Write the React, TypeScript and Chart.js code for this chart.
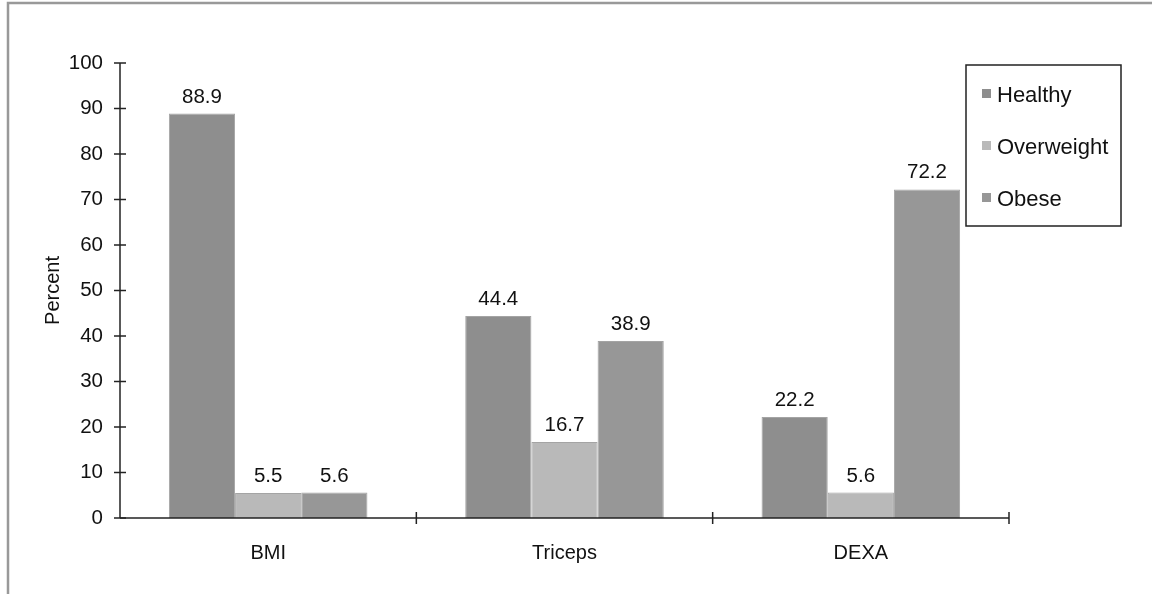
import React, { useEffect, useRef } from "react";
import { Chart, registerables } from "chart.js";

Chart.register(...registerables);

const categories = ["BMI", "Triceps", "DEXA"];
const seriesNames = ["Healthy", "Overweight", "Obese"];
const healthy = [88.9, 44.4, 22.2];
const overweight = [5.5, 16.7, 5.6];
const obese = [5.6, 38.9, 72.2];
const seriesColors = ["#8e8e8e", "#b9b9b9", "#979797"];
const yTicks = [0, 10, 20, 30, 40, 50, 60, 70, 80, 90, 100];
const yTitle = "Percent";

const FONT = "'Liberation Sans', Arial, sans-serif";

const decorPlugin = {
  id: "decor",
  beforeDraw(chart: any) {
    const ctx = chart.ctx;
    ctx.save();
    ctx.strokeStyle = "#999999";
    ctx.lineWidth = 2.5;
    ctx.beginPath();
    ctx.moveTo(8, 594);
    ctx.lineTo(8, 3);
    ctx.lineTo(1152, 3);
    ctx.stroke();
    ctx.restore();
  },
  afterDatasetsDraw(chart: any) {
    const ctx = chart.ctx;
    const area = chart.chartArea;
    const y = chart.scales.y;
    ctx.save();
    ctx.strokeStyle = "#222";
    ctx.lineWidth = 1.5;
    ctx.beginPath();
    ctx.moveTo(area.left, y.getPixelForValue(100));
    ctx.lineTo(area.left, y.getPixelForValue(0));
    ctx.stroke();
    yTicks.forEach((v) => {
      const py = y.getPixelForValue(v);
      ctx.beginPath();
      ctx.moveTo(area.left - 6, py);
      ctx.lineTo(area.left + 6, py);
      ctx.stroke();
    });
    const y0 = y.getPixelForValue(0);
    ctx.beginPath();
    ctx.moveTo(area.left, y0);
    ctx.lineTo(area.right, y0);
    ctx.stroke();
    const n = categories.length;
    const w = (area.right - area.left) / n;
    for (let i = 1; i <= n; i++) {
      const px = area.left + i * w;
      ctx.beginPath();
      ctx.moveTo(px, y0 - 6);
      ctx.lineTo(px, y0 + 6);
      ctx.stroke();
    }
    ctx.fillStyle = "#111";
    ctx.font = `20.5px ${FONT}`;
    ctx.textAlign = "center";
    ctx.textBaseline = "alphabetic";
    chart.data.datasets.forEach((ds: any, di: number) => {
      const meta = chart.getDatasetMeta(di);
      meta.data.forEach((bar: any, i: number) => {
        ctx.fillText(String(ds.data[i]), bar.x, bar.y - 11);
      });
    });
    ctx.save();
    ctx.translate(53, (area.top + y0) / 2);
    ctx.rotate(-Math.PI / 2);
    ctx.font = `20px ${FONT}`;
    ctx.textAlign = "center";
    ctx.textBaseline = "middle";
    ctx.fillText(yTitle, 0, 0);
    ctx.restore();
    const lx = 966, ly = 65, lw = 155, lh = 161;
    ctx.strokeStyle = "#222";
    ctx.lineWidth = 1.5;
    ctx.beginPath();
    ctx.rect(lx, ly, lw, lh);
    ctx.stroke();
    ctx.font = `22px ${FONT}`;
    ctx.textAlign = "left";
    ctx.textBaseline = "middle";
    chart.data.datasets.forEach((ds: any, di: number) => {
      const cy = ly + 31 + di * 52;
      ctx.fillStyle = ds.backgroundColor;
      ctx.fillRect(lx + 16, cy - 7, 9, 9);
      ctx.fillStyle = "#111";
      ctx.fillText(ds.label, lx + 31, cy);
    });
    ctx.restore();
  },
};

export default function App() {
  const ref = useRef<HTMLCanvasElement>(null);
  useEffect(() => {
    document.body.style.margin = "0";
    const data = [healthy, overweight, obese];
    const chart = new Chart(ref.current!, {
      type: "bar",
      data: {
        labels: categories,
        datasets: seriesNames.map((name, i) => ({
          label: name,
          data: data[i],
          backgroundColor: seriesColors[i],
          borderColor: "#a4a4a4",
          borderWidth: 1,
          categoryPercentage: 0.67,
          barPercentage: 1,
        })),
      },
      options: {
        animation: false,
        responsive: false,
        devicePixelRatio: 1,
        layout: { padding: { left: 0, top: 63, right: 143, bottom: 0 } },
        plugins: { legend: { display: false }, tooltip: { enabled: false } },
        scales: {
          x: {
            grid: { display: false, drawTicks: false },
            border: { display: false },
            ticks: { color: "#111", font: { family: FONT, size: 20 }, padding: 23 },
            afterFit: (s: any) => { s.height = 76; },
          },
          y: {
            min: 0,
            max: 100,
            afterBuildTicks: (s: any) => { s.ticks = yTicks.map((v) => ({ value: v })); },
            grid: { display: false, drawTicks: false },
            border: { display: false },
            ticks: { color: "#111", font: { family: FONT, size: 20.5 }, padding: 17 },
            afterFit: (s: any) => { s.width = 120; },
          },
        },
      },
      plugins: [decorPlugin],
    });
    return () => chart.destroy();
  }, []);
  return <canvas ref={ref} width={1152} height={594} style={{ display: "block" }} />;
}
